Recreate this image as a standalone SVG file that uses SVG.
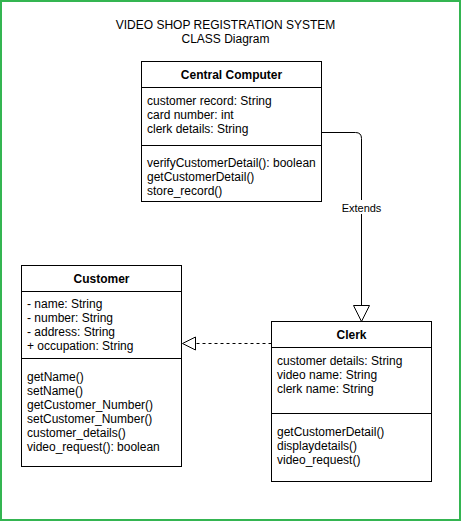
<svg xmlns="http://www.w3.org/2000/svg" width="462" height="522" viewBox="0 0 462 522">
<style>
text{font-family:"Liberation Sans",Arial,sans-serif;font-size:12px;fill:#000}
.b{font-weight:bold}
.c{text-anchor:middle}
.box{fill:#fff;stroke:#000;stroke-width:1}
.ln{stroke:#000;stroke-width:1;fill:none}
</style>
<rect x="1" y="1" width="459" height="519" fill="#fff" stroke="#34b551" stroke-width="2"/>
<text class="c" x="225.5" y="29">VIDEO SHOP REGISTRATION SYSTEM</text>
<text class="c" x="225.5" y="43">CLASS Diagram</text>
<g id="connectors">
<path class="ln" d="M322,132.5 H355.5 Q361.5,132.5 361.5,138.5 V305.5"/>
<polygon points="353.5,305.5 369.5,305.5 361.5,321.5" fill="#fff" stroke="#000"/>
<rect x="341" y="200" width="41" height="14" fill="#fff"/>
<text class="c" x="361.5" y="211.5" style="font-size:11px">Extends</text>
<path class="ln" d="M271.5,343.5 H196" stroke-dasharray="3 3"/>
<polygon points="195.5,337 195.5,350 182.5,343.5" fill="#fff" stroke="#000"/>
</g>
<g id="central-computer">
<rect class="box" x="141.5" y="61.5" width="180" height="140"/>
<path class="ln" d="M141.5,87.5 H321.5 M141.5,145.5 H321.5"/>
<text class="b c" x="231.5" y="79">Central Computer</text>
<text x="147" y="104.5">customer record: String</text>
<text x="147" y="118.5">card number: int</text>
<text x="147" y="132.5">clerk details: String</text>
<text x="147" y="167">verifyCustomerDetail(): boolean</text>
<text x="147" y="181">getCustomerDetail()</text>
<text x="147" y="195">store_record()</text>
</g>
<g id="customer">
<rect class="box" x="21.5" y="265.5" width="160" height="201"/>
<path class="ln" d="M21.5,291.5 H181.5 M21.5,358.5 H181.5"/>
<text class="b c" x="101.5" y="282.5">Customer</text>
<text x="27" y="307.5">- name: String</text>
<text x="27" y="321.5">- number: String</text>
<text x="27" y="335.5">- address: String</text>
<text x="27" y="349.5">+ occupation: String</text>
<text x="27" y="381">getName()</text>
<text x="27" y="395">setName()</text>
<text x="27" y="409">getCustomer_Number()</text>
<text x="27" y="423">setCustomer_Number()</text>
<text x="27" y="437">customer_details()</text>
<text x="27" y="451">video_request(): boolean</text>
</g>
<g id="clerk">
<rect class="box" x="271.5" y="321.5" width="160" height="160"/>
<path class="ln" d="M271.5,347.5 H431.5 M271.5,413.5 H431.5"/>
<text class="b c" x="351.5" y="339">Clerk</text>
<text x="277" y="365">customer details: String</text>
<text x="277" y="379">video name: String</text>
<text x="277" y="393">clerk name: String</text>
<text x="277" y="436">getCustomerDetail()</text>
<text x="277" y="450">displaydetails()</text>
<text x="277" y="464">video_request()</text>
</g>
</svg>
